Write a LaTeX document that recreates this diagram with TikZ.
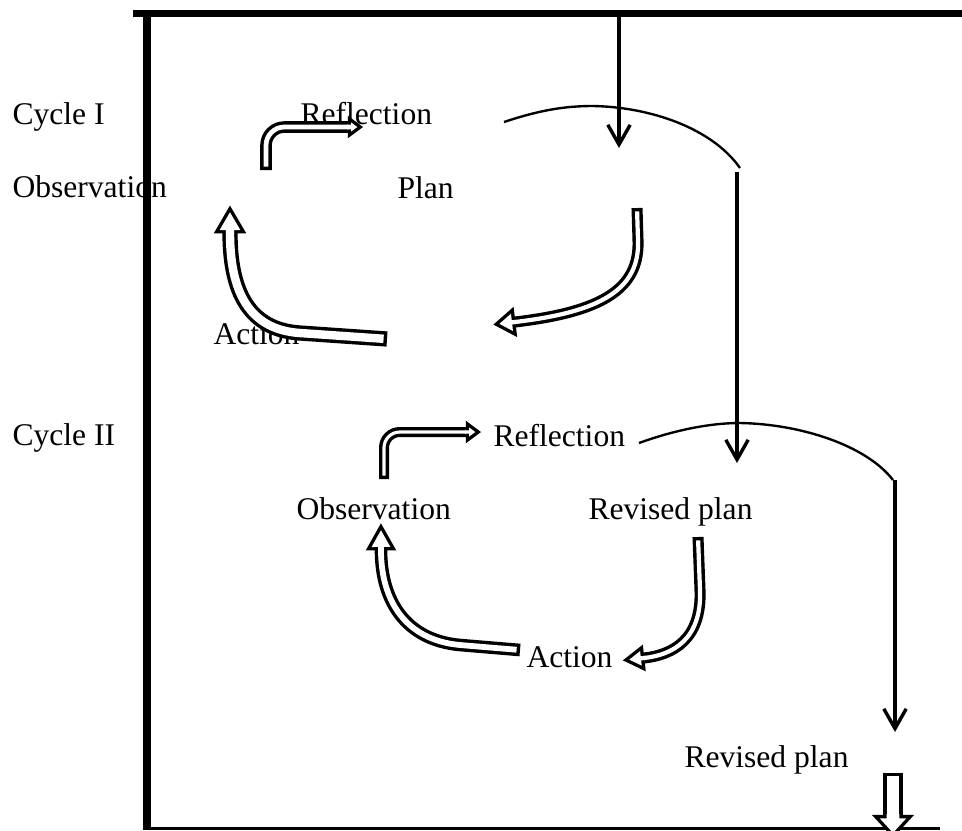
\documentclass[tikz,border=0pt]{standalone}
\usepackage{fontspec}
\setmainfont{Liberation Serif}
\usetikzlibrary{arrows.meta,decorations.markings}

% hollow block arrow: #1 shaft width, #2 head half-width, #3 head length (all pt), #4 path
\newcommand{\blockarrow}[4]{%
  \pgfmathsetmacro{\arrW}{#1/2-1.3}%
  \pgfmathsetmacro{\arrIW}{2*\arrW}%
  \pgfmathsetmacro{\arrR}{#3*#2/(#2+veclen(#3,#2))}%
  \pgfmathsetmacro{\arrK}{(\arrR-1.3)/\arrR}%
  \pgfmathsetmacro{\arrH}{\arrK*#2}%
  \pgfmathsetmacro{\arrT}{\arrR+\arrK*(#3-\arrR)}%
  \draw[line width=#1pt, postaction={decorate, decoration={markings,
      mark=at position 0.998 with {\fill[sharp corners] (0pt,-#2pt) -- (#3pt,0pt) -- (0pt,#2pt) -- cycle;}}}] #4;
  \draw[white, line width=\arrIW pt, shorten <=1.3pt, postaction={decorate, decoration={markings,
      mark=at position 0.998 with {\fill[white, sharp corners] (-0.3pt,-\arrW pt) -- (1.3pt,-\arrW pt) -- (1.3pt,-\arrH pt)
        -- (\arrT pt,0pt) -- (1.3pt,\arrH pt) -- (1.3pt,\arrW pt) -- (-0.3pt,\arrW pt) -- cycle;}}}] #4;
}

\tikzset{
  cyclelabel/.style={anchor=base west, inner sep=0pt, font=\fontsize{12}{14}\selectfont},
  thinarrow/.style={line width=1.3pt, -{Straight Barb[length=7.5pt,width=8.5pt]}},
  arcline/.style={line width=0.9pt},
}

\begin{document}
\begin{tikzpicture}[x=0.38pt, y=-0.38pt]
  \useasboundingbox (0,0) rectangle (962,830);

  % labels
  \node[cyclelabel] (cycA)  at (12,124)  {Cycle I};
  \node[cyclelabel] (reflA) at (300,124) {Reflection};
  \node[cyclelabel] (obsA)  at (12,197)  {Observation};
  \node[cyclelabel] (planA) at (397,198) {Plan};
  \node[cyclelabel] (actA)  at (213,344) {Action};
  \node[cyclelabel] (cycB)  at (12,445)  {Cycle II};
  \node[cyclelabel] (reflB) at (493,446) {Reflection};
  \node[cyclelabel] (obsB)  at (296,519) {Observation};
  \node[cyclelabel] (planB) at (588,519) {Revised plan};
  \node[cyclelabel] (actB)  at (526,667) {Action};
  \node[cyclelabel] (planC) at (684,767) {Revised plan};

  % frame
  \draw[line width=2.7pt] (133,13.5) -- (962,13.5);
  \draw[line width=3pt] (147,17) -- (147,830);
  \draw[line width=1.1pt] (143,828.5) -- (940,828.5);

  % thin links
  \draw[thinarrow] (619,17) -- (619,148);
  \draw[arcline] (504,122) .. controls (540,110) and (565,106) .. (593,106)
    .. controls (650,107) and (712,128) .. (740,168);
  \draw[thinarrow] (737,172) -- (737,463);
  \draw[arcline] (639,443) .. controls (675,430) and (710,423) .. (740,423)
    .. controls (800,424) and (866,445) .. (893,480);
  \draw[thinarrow] (895,480) -- (895,732);

  % cycle I
  \blockarrow{4.4}{4.3}{5.8}{[rounded corners=7pt] (266,170) -- (266,127) -- (348,127)}
  \blockarrow{5.8}{6.2}{10.6}{(387,339) -- (300,333) .. controls (255,330) and (230,300) .. (230,233)}
  \blockarrow{4.2}{5.8}{8.4}{(637,208) -- (638,240) .. controls (640,290) and (600,312) .. (515,322)}

  % cycle II
  \blockarrow{3.8}{4.3}{5.8}{[rounded corners=6pt] (384,479) -- (384,432) -- (466,432)}
  \blockarrow{4.8}{5.8}{10.3}{(520,650) -- (460,645) .. controls (405,640) and (381,600) .. (381,550)}
  \blockarrow{4.2}{5.1}{8.2}{(698,537) -- (700,590) .. controls (702,640) and (672,655) .. (644,658)}

  % out
  \blockarrow{7.4}{8}{8.7}{(893,773) -- (893,815)}
\end{tikzpicture}
\end{document}
